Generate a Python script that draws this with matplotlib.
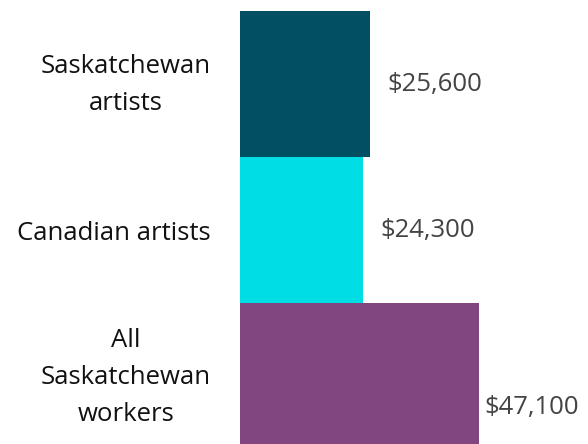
import matplotlib.pyplot as plt
from matplotlib.transforms import ScaledTranslation

# data
groups = ['Saskatchewan\nartists', 'Canadian artists', 'All\nSaskatchewan\nworkers']
incomes = [25600, 24300, 47100]
colors = ['#004f63', '#00dde4', '#81457f']

# label nudges in points (the last one is squeezed in at the right edge)
label_nudge = [(12.5, 0), (12.5, 0), (3.5, -23)]

plt.rcParams['font.family'] = ['Open Sans', 'DejaVu Sans']

fig = plt.figure(figsize=(5.88, 4.44), dpi=100)
# bars touch each other; the last one runs past the bottom edge
ax = fig.add_axes([240 / 588, 1 - 449 / 444, 300 / 588, 438 / 444])

ypos = list(range(len(groups)))
ax.barh(ypos, incomes, height=1.0, color=colors)
ax.set_ylim(len(groups) - 0.5, -0.5)
ax.set_xlim(0, 300 / 130 * 25600)

for y, v, (dx, dy) in zip(ypos, incomes, label_nudge):
    ax.annotate(f'${v:,}', (v, y), xytext=(dx, dy), textcoords='offset points',
                ha='left', va='center', fontsize=18.5, color='#444444')

ax.set_yticks(ypos)
ax.set_yticklabels(groups, fontsize=18.5, color='#111111', ha='right',
                   multialignment='center', linespacing=1.62)
ax.tick_params(axis='y', length=0, pad=21)
# multi-line labels sit a bit low, lift them
for lab in ax.get_yticklabels():
    if '\n' in lab.get_text():
        lab.set_transform(lab.get_transform() +
                          ScaledTranslation(0, 5.5 / 72, fig.dpi_scale_trans))
ax.set_xticks([])
for s in ax.spines.values():
    s.set_visible(False)

fig.savefig('out.png', dpi=100)
